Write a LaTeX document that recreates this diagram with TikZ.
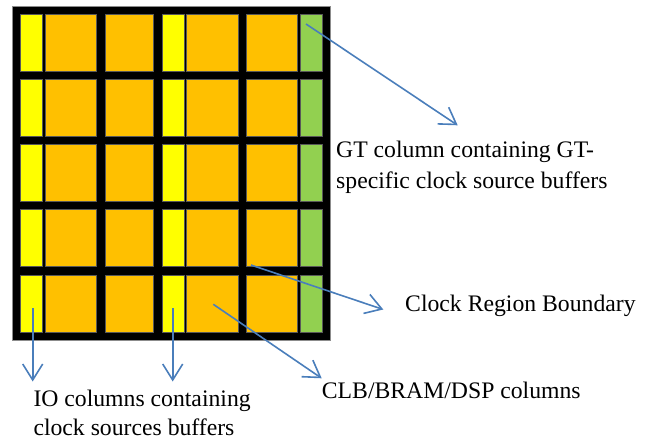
\documentclass[tikz,border=0pt]{standalone}
\usepackage{fontspec}
\setmainfont{Liberation Serif}
\usetikzlibrary{arrows.meta}
\definecolor{cyel}{HTML}{FFFF00}
\definecolor{cora}{HTML}{FFC000}
\definecolor{cgrn}{HTML}{92D050}
\definecolor{cblu}{HTML}{4A7EBB}
\tikzset{
  cell/.style={draw=black!65, line width=0.6pt},
  callout/.style={draw=cblu, line width=1.6pt, -{Straight Barb[length=16pt,width=20pt,line width=1.6pt]}},
  lbl/.style={anchor=base west, inner sep=0pt, font=\fontsize{23.7}{29}\selectfont}
}
\begin{document}
\begin{tikzpicture}[x=1pt,y=-1pt]
\useasboundingbox (0,0) rectangle (650,442);
% frame
\fill[black] (12.3,6.7) rectangle (330,340);
\draw[black!45, line width=0.5pt] (12.3,6.7) rectangle (330,340);
% cells
\foreach \r in {0,...,4}{
  \pgfmathsetmacro\yt{14+65.25*\r}
  \foreach \xa/\xb/\c in {20.7/42.7/cyel, 45/96.7/cora, 105/153.3/cora, 162.3/184/cyel, 186/238.3/cora, 246/297.7/cora, 300/322.7/cgrn}{
    \draw[cell, fill=\c] (\xa,\yt) rectangle (\xb,\yt+57);
  }
}
% labels
\node[lbl] (gt1) at (336,157.5) {GT column containing GT-};
\node[lbl] (gt2) at (336,188.5) {specific clock source buffers};
\node[lbl] (crb) at (405,311.7) {Clock Region Boundary};
\node[lbl] (clb) at (321.7,398.3) {CLB/BRAM/DSP columns};
\node[lbl] (io1) at (33.3,406.7) {IO columns containing};
\node[lbl] (io2) at (33.3,435.5) {clock sources buffers};
% callout ends
\coordinate (gtS) at (306,24);
\coordinate (gtT) at (457.7,125.3);
\coordinate (crS) at (251,265);
\coordinate (crT) at (383.3,309.5);
\coordinate (clbS) at (213.3,304.3);
\coordinate (clbT) at (321.7,378.3);
\coordinate (ioaS) at (32.7,308.3);
\coordinate (ioaT) at (32.7,381.5);
\coordinate (iobS) at (172.7,308.3);
\coordinate (iobT) at (172.7,381.5);
\draw[callout] (gtS) -- (gtT);
\draw[callout] (crS) -- (crT);
\draw[callout] (clbS) -- (clbT);
\draw[callout] (ioaS) -- (ioaT);
\draw[callout] (iobS) -- (iobT);
\end{tikzpicture}
\end{document}
